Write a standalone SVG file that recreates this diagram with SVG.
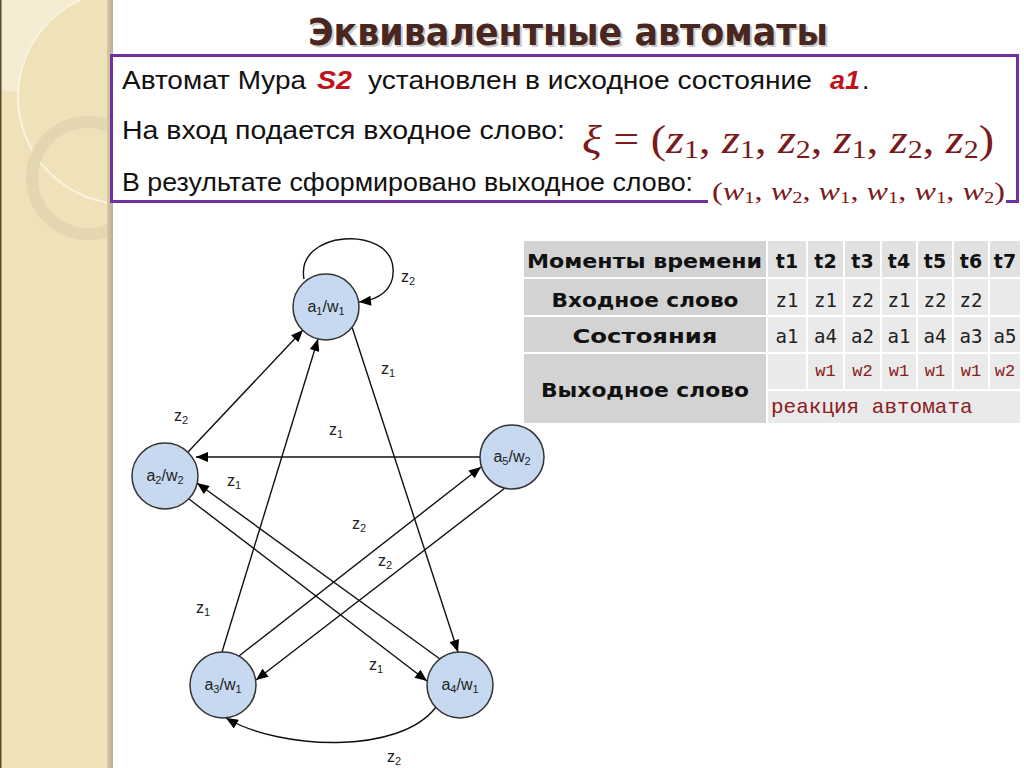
<svg xmlns="http://www.w3.org/2000/svg" width="1024" height="768" viewBox="0 0 1024 768">
<defs>
<style>
.box{font-family:"Liberation Sans",Arial,sans-serif;font-size:26.5px;fill:#111}
.red{font-weight:bold;font-style:italic;fill:#c0141c}
.math{font-family:"Liberation Serif","Times New Roman",serif;fill:#7a1a1a}
.th{font-family:"DejaVu Sans",Verdana,sans-serif;font-weight:bold;font-size:19px;fill:#111}
.td{font-family:"DejaVu Sans Mono","Liberation Mono",monospace;font-size:19px;fill:#222;text-anchor:middle}
.tw{font-family:"Liberation Mono","Courier New",monospace;font-size:17px;fill:#8b2020;text-anchor:middle}
.twl{font-family:"Liberation Mono","Courier New",monospace;font-size:21px;fill:#8b2020;text-anchor:start}
.node circle{fill:#c6d9f0;stroke:#333;stroke-width:1.5}
.node text{font-family:"Liberation Sans",Arial,sans-serif;font-size:16px;fill:#222;text-anchor:middle}
.edge{fill:none;stroke:#111;stroke-width:1.4;marker-end:url(#arr)}
.lbl{font-family:"Liberation Sans",Arial,sans-serif;font-size:16px;fill:#222}
.c0{fill:#d3d3d3}.ch{fill:#e1e1e1}.cd{fill:#eaeaea}
</style>
<marker id="arr" viewBox="0 0 12 10" refX="12" refY="5" markerWidth="13" markerHeight="10" orient="auto" markerUnits="userSpaceOnUse">
<path d="M0,0 L12,5 L0,10 z" fill="#000"/>
</marker>
<clipPath id="strip"><rect x="0" y="0" width="108" height="768"/></clipPath>
<linearGradient id="edgeg" x1="0" x2="1" y1="0" y2="0">
<stop offset="0" stop-color="#d8caa2"/><stop offset="1" stop-color="#b8ad95"/>
</linearGradient>
</defs>
<rect width="1024" height="768" fill="#ffffff"/>
<!-- left decorative strip -->
<g id="strip-deco">
<rect x="0" y="0" width="110" height="768" fill="#efe1b8"/>
<g clip-path="url(#strip)">
<path d="M0,0 L82,0 A107,107 0 0 0 18,92 L0,90 Z" fill="#f7efd9" opacity="0.8"/>
<circle cx="125" cy="97" r="107" fill="none" stroke="#faf3de" stroke-width="2"/>
<circle cx="88" cy="178" r="56" fill="none" stroke="#e2d5b0" stroke-width="12" opacity="0.9"/>
</g>
<rect x="107" y="0" width="6" height="768" fill="url(#edgeg)"/>
<rect x="0" y="0" width="1.5" height="768" fill="#5a4a30"/>
</g>
<!-- title -->
<g id="title">
<text x="310" y="47" font-family="DejaVu Sans,Verdana,sans-serif" font-weight="bold" font-size="38" fill="#9a9a9a" opacity="0.5" textLength="520" lengthAdjust="spacingAndGlyphs">Эквивалентные автоматы</text>
<text x="308" y="45" font-family="DejaVu Sans,Verdana,sans-serif" font-weight="bold" font-size="38" fill="#4a2620" textLength="520" lengthAdjust="spacingAndGlyphs">Эквивалентные автоматы</text>
</g>
<!-- info box -->
<g id="infobox">
<rect x="111.5" y="55.5" width="906" height="146" fill="#fff" stroke="#7030a0" stroke-width="3"/>
<text class="box" y="89"><tspan x="122" textLength="184" lengthAdjust="spacingAndGlyphs">Автомат Мура</tspan><tspan x="317" class="red" textLength="35" lengthAdjust="spacingAndGlyphs">S2</tspan><tspan x="368" textLength="444" lengthAdjust="spacingAndGlyphs">установлен в исходное состояние</tspan><tspan x="830" class="red" textLength="30" lengthAdjust="spacingAndGlyphs">a1</tspan><tspan x="862">.</tspan></text>
<text class="box" x="122" y="139" textLength="443" lengthAdjust="spacingAndGlyphs">На вход подается входное слово:</text>
<text class="box" x="122" y="191" textLength="571" lengthAdjust="spacingAndGlyphs">В результате сформировано выходное слово:</text>
<text class="math" x="582" y="153" font-size="40" textLength="412" lengthAdjust="spacingAndGlyphs"><tspan font-style="italic">ξ</tspan> = (<tspan font-style="italic">z</tspan><tspan font-size="26" dy="5">1</tspan><tspan dy="-5">, </tspan><tspan font-style="italic">z</tspan><tspan font-size="26" dy="5">1</tspan><tspan dy="-5">, </tspan><tspan font-style="italic">z</tspan><tspan font-size="26" dy="5">2</tspan><tspan dy="-5">, </tspan><tspan font-style="italic">z</tspan><tspan font-size="26" dy="5">1</tspan><tspan dy="-5">, </tspan><tspan font-style="italic">z</tspan><tspan font-size="26" dy="5">2</tspan><tspan dy="-5">, </tspan><tspan font-style="italic">z</tspan><tspan font-size="26" dy="5">2</tspan><tspan dy="-5">)</tspan></text>
<rect x="708" y="182" width="298" height="28" fill="#fff"/>
<text class="math" x="712" y="200" font-size="25" textLength="293" lengthAdjust="spacingAndGlyphs">(<tspan font-style="italic">w</tspan><tspan font-size="16" dy="3">1</tspan><tspan dy="-3">, </tspan><tspan font-style="italic">w</tspan><tspan font-size="16" dy="3">2</tspan><tspan dy="-3">, </tspan><tspan font-style="italic">w</tspan><tspan font-size="16" dy="3">1</tspan><tspan dy="-3">, </tspan><tspan font-style="italic">w</tspan><tspan font-size="16" dy="3">1</tspan><tspan dy="-3">, </tspan><tspan font-style="italic">w</tspan><tspan font-size="16" dy="3">1</tspan><tspan dy="-3">, </tspan><tspan font-style="italic">w</tspan><tspan font-size="16" dy="3">2</tspan><tspan dy="-3">)</tspan></text>
</g>
<!-- table -->
<g id="table">
<rect x="524" y="241" width="242" height="36" class="c0"/>
<rect x="768" y="241" width="38" height="36" class="ch"/>
<rect x="808" y="241" width="35" height="36" class="ch"/>
<rect x="845" y="241" width="35" height="36" class="ch"/>
<rect x="882" y="241" width="34" height="36" class="ch"/>
<rect x="918" y="241" width="34" height="36" class="ch"/>
<rect x="954" y="241" width="34" height="36" class="ch"/>
<rect x="990" y="241" width="30" height="36" class="ch"/>
<rect x="524" y="279" width="242" height="36" class="c0"/>
<rect x="768" y="279" width="38" height="36" class="cd"/>
<rect x="808" y="279" width="35" height="36" class="cd"/>
<rect x="845" y="279" width="35" height="36" class="cd"/>
<rect x="882" y="279" width="34" height="36" class="cd"/>
<rect x="918" y="279" width="34" height="36" class="cd"/>
<rect x="954" y="279" width="34" height="36" class="cd"/>
<rect x="990" y="279" width="30" height="36" class="cd"/>
<rect x="524" y="317" width="242" height="35" class="c0"/>
<rect x="768" y="317" width="38" height="35" class="cd"/>
<rect x="808" y="317" width="35" height="35" class="cd"/>
<rect x="845" y="317" width="35" height="35" class="cd"/>
<rect x="882" y="317" width="34" height="35" class="cd"/>
<rect x="918" y="317" width="34" height="35" class="cd"/>
<rect x="954" y="317" width="34" height="35" class="cd"/>
<rect x="990" y="317" width="30" height="35" class="cd"/>
<rect x="524" y="354" width="242" height="69" class="c0"/>
<rect x="768" y="354" width="38" height="35" class="cd"/>
<rect x="808" y="354" width="35" height="35" class="cd"/>
<rect x="845" y="354" width="35" height="35" class="cd"/>
<rect x="882" y="354" width="34" height="35" class="cd"/>
<rect x="918" y="354" width="34" height="35" class="cd"/>
<rect x="954" y="354" width="34" height="35" class="cd"/>
<rect x="990" y="354" width="30" height="35" class="cd"/>
<rect x="768" y="391" width="252" height="32" class="cd"/>
<text class="th" x="527" y="268" textLength="235" lengthAdjust="spacingAndGlyphs">Моменты времени</text>
<g class="th" text-anchor="middle" font-size="20">
<text x="787" y="268">t1</text><text x="825.5" y="268">t2</text><text x="862.5" y="268">t3</text><text x="899" y="268">t4</text><text x="935" y="268">t5</text><text x="971" y="268">t6</text><text x="1005" y="268">t7</text>
</g>
<text class="th" x="645" y="307" text-anchor="middle" textLength="187" lengthAdjust="spacingAndGlyphs">Входное слово</text>
<text class="th" x="645" y="343" text-anchor="middle" textLength="145" lengthAdjust="spacingAndGlyphs">Состояния</text>
<text class="th" x="645" y="397" text-anchor="middle" textLength="208" lengthAdjust="spacingAndGlyphs">Выходное слово</text>
<text class="td" x="787" y="307">z1</text><text class="td" x="825.5" y="307">z1</text><text class="td" x="862.5" y="307">z2</text><text class="td" x="899" y="307">z1</text><text class="td" x="935" y="307">z2</text><text class="td" x="971" y="307">z2</text>
<text class="td" x="787" y="343">a1</text><text class="td" x="825.5" y="343">a4</text><text class="td" x="862.5" y="343">a2</text><text class="td" x="899" y="343">a1</text><text class="td" x="935" y="343">a4</text><text class="td" x="971" y="343">a3</text><text class="td" x="1005" y="343">a5</text>
<text class="tw" x="825.5" y="376">w1</text><text class="tw" x="862.5" y="376">w2</text><text class="tw" x="899" y="376">w1</text><text class="tw" x="935" y="376">w1</text><text class="tw" x="971" y="376">w1</text><text class="tw" x="1005" y="376">w2</text>
<text class="twl" x="771" y="413">реакция автомата</text>
</g>
<!-- connectors -->
<g id="connectors">
<path class="edge" d="M304,279 C295,230 390,225 393,268 C395,290 378,300 359,302"/>
<path class="edge" d="M188,452 L303,330"/>
<path class="edge" d="M222,652 L318,339"/>
<path class="edge" d="M352,327 L458,652"/>
<path class="edge" d="M480,457 L196,457"/>
<path class="edge" d="M440,659 L197,483"/>
<path class="edge" d="M189,499 L427,681"/>
<path class="edge" d="M239,656 L481,467"/>
<path class="edge" d="M505,488 L256,680"/>
<path class="edge" d="M436,707 C400,755 280,750 226,718"/>
<g class="lbl">
<text x="401" y="282">z<tspan font-size="11" dy="3">2</tspan></text>
<text x="381" y="374">z<tspan font-size="11" dy="3">1</tspan></text>
<text x="174" y="421">z<tspan font-size="11" dy="3">2</tspan></text>
<text x="329" y="435">z<tspan font-size="11" dy="3">1</tspan></text>
<text x="227" y="486">z<tspan font-size="11" dy="3">1</tspan></text>
<text x="352" y="529">z<tspan font-size="11" dy="3">2</tspan></text>
<text x="378" y="566">z<tspan font-size="11" dy="3">2</tspan></text>
<text x="196" y="613">z<tspan font-size="11" dy="3">1</tspan></text>
<text x="369" y="670">z<tspan font-size="11" dy="3">1</tspan></text>
<text x="387" y="762">z<tspan font-size="11" dy="3">2</tspan></text>
</g>
</g>
<!-- nodes -->
<g id="a1" class="node"><circle cx="326" cy="307" r="33"/><text x="326" y="312">a<tspan font-size="11" dy="3">1</tspan><tspan dy="-3">/w</tspan><tspan font-size="11" dy="3">1</tspan></text></g>
<g id="a2" class="node"><circle cx="165" cy="476" r="33"/><text x="165" y="481">a<tspan font-size="11" dy="3">2</tspan><tspan dy="-3">/w</tspan><tspan font-size="11" dy="3">2</tspan></text></g>
<g id="a5" class="node"><circle cx="512" cy="457" r="32"/><text x="512" y="462">a<tspan font-size="11" dy="3">5</tspan><tspan dy="-3">/w</tspan><tspan font-size="11" dy="3">2</tspan></text></g>
<g id="a3" class="node"><circle cx="223" cy="685" r="33"/><text x="223" y="690">a<tspan font-size="11" dy="3">3</tspan><tspan dy="-3">/w</tspan><tspan font-size="11" dy="3">1</tspan></text></g>
<g id="a4" class="node"><circle cx="460" cy="685" r="33"/><text x="460" y="690">a<tspan font-size="11" dy="3">4</tspan><tspan dy="-3">/w</tspan><tspan font-size="11" dy="3">1</tspan></text></g>
</svg>
